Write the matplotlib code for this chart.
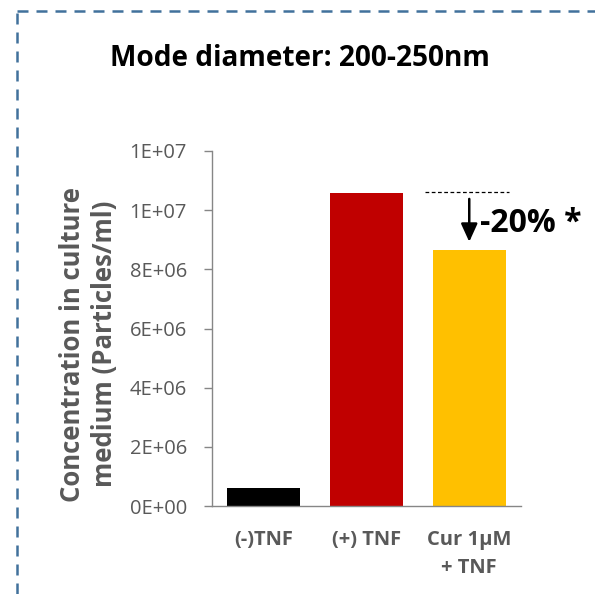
import matplotlib.pyplot as plt
from matplotlib.ticker import FuncFormatter, MultipleLocator
from matplotlib.lines import Line2D

plt.rcParams.update({'font.family': ['Open Sans', 'DejaVu Sans']})

# data
categories = ['(-)TNF', '(+) TNF', 'Cur 1\u00b5M\n+ TNF']
values = [0.6e6, 10.58e6, 8.65e6]
colors = ['#000000', '#C00000', '#FFC000']
change_label = '-20% *'

grey = '#595959'

fig = plt.figure(figsize=(5.95, 5.94), dpi=100)
ax = fig.add_axes([212/595, 1-506/594, (520.7-212)/595, (506-151)/594])

x = range(len(categories))
ax.bar(x, values, width=0.71, color=colors, zorder=2)

ax.set_xlim(-0.5, 2.5)
ax.set_ylim(0, 12e6)
ax.yaxis.set_major_locator(MultipleLocator(2e6))
ax.yaxis.set_major_formatter(FuncFormatter(lambda v, p: f'{v:.0E}'))
ax.set_xticks(list(x))
ax.set_xticklabels(categories, fontsize=14.5, fontweight='bold', color=grey,
                   linespacing=1.55)
ax.tick_params(axis='x', length=0, pad=17)
ax.tick_params(axis='y', length=6, width=1, color='#868686', labelsize=14.5,
               labelcolor=grey, pad=12)
for s in ['top', 'right']:
    ax.spines[s].set_visible(False)
for s in ['left', 'bottom']:
    ax.spines[s].set_color('#868686')
    ax.spines[s].set_linewidth(1)

ax.set_ylabel('Concentration in culture\nmedium (Particles/ml)', fontsize=18.5,
              fontweight='bold', color=grey, linespacing=1.25)
ax.yaxis.set_label_coords((118-212)/308.7, (506-344)/355)

# reference line and arrow
ax.plot([1.57, 2.39], [values[1] + 0.05e6] * 2, ls=(0, (3, 2)), color='black',
        lw=0.9, clip_on=False)
ax.annotate('', xy=(2, values[2] + 0.28e6), xytext=(2, values[1] - 0.2e6),
            arrowprops=dict(arrowstyle='-|>,head_width=0.5,head_length=1.1',
                            color='black', lw=1.8, shrinkA=0, shrinkB=0))
ax.text(2.1, (values[1] + values[2]) / 2 - 0.05e6, change_label, fontsize=23,
        fontweight='bold', va='center', ha='left')

fig.text(300/595, 1-59/594, 'Mode diameter: 200-250nm', fontsize=20.2,
         fontweight='bold', ha='center', va='center')

# dashed border
border = '#41719C'
fig.add_artist(Line2D([17.3/595, 17.3/595], [0, 1-10.7/594], transform=fig.transFigure,
                      color=border, lw=1.8, ls=(0, (4.4, 3.2))))
fig.add_artist(Line2D([17.3/595, 1], [1-10.7/594, 1-10.7/594], transform=fig.transFigure,
                      color=border, lw=1.8, ls=(0, (4.4, 3.2))))

fig.savefig('out.png', dpi=100)
